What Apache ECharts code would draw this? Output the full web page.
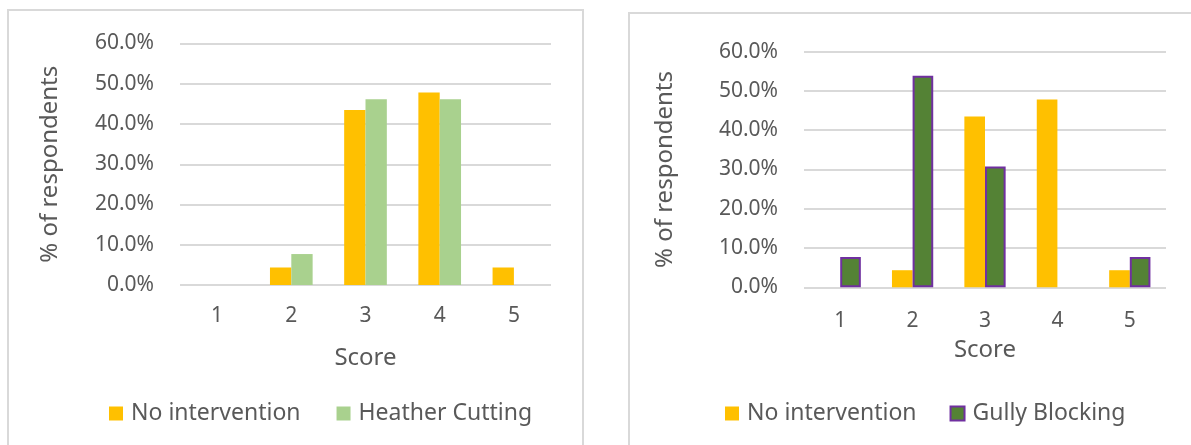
<!DOCTYPE html>
<html>
<head>
<meta charset="utf-8">
<script src="https://cdn.jsdelivr.net/npm/echarts@6/dist/echarts.min.js"></script>
<style>
  html, body { margin: 0; padding: 0; background: #ffffff; }
  #chart { width: 1191px; height: 445px; }
</style>
</head>
<body>
<div id="chart"></div>
<script>
// ---- data (percent of respondents) ----
const scores = ['1', '2', '3', '4', '5'];
const yTicks = [0, 10, 20, 30, 40, 50, 60];
const noIntervention = [0, 4.35, 43.48, 47.83, 4.35];
const heatherCutting = [0, 7.69, 46.15, 46.15, 0];
const gullyBlocking = [7.69, 53.85, 30.77, 0, 7.69];
const seriesNames = ['No intervention', 'Heather Cutting', 'Gully Blocking'];
const yAxisTitle = '% of respondents';
const xAxisTitle = 'Score';

// ---- styling ----
const FONT = 'Noto Sans';
const TXT = '#595959';
const GRIDC = '#d9d9d9';
const ORANGE = '#FFC000';
const LGREEN = '#A9D18E';
const DGREEN = '#548235';
const PURPLE = '#7030A0';

function yAxisCfg(gridIndex, nameGap) {
  return {
    type: 'value', gridIndex: gridIndex,
    min: yTicks[0], max: yTicks[yTicks.length - 1], interval: 10,
    name: yAxisTitle, nameLocation: 'middle', nameRotate: 90, nameGap: nameGap,
    nameTextStyle: { fontFamily: FONT, fontSize: 24, color: TXT },
    axisLine: { show: false }, axisTick: { show: false },
    axisLabel: { fontFamily: FONT, fontSize: 21, color: TXT, margin: 26,
      formatter: v => v.toFixed(1) + '%' },
    splitLine: { show: true, lineStyle: { color: GRIDC, width: 2 } }
  };
}
function xAxisCfg(gridIndex, labelMargin, nameGap) {
  return {
    type: 'category', gridIndex: gridIndex, data: scores,
    name: xAxisTitle, nameLocation: 'middle', nameGap: nameGap,
    nameTextStyle: { fontFamily: FONT, fontSize: 24, color: TXT },
    axisLine: { show: false }, axisTick: { show: false },
    axisLabel: { fontFamily: FONT, fontSize: 21, color: TXT, margin: labelMargin }
  };
}

const gullyData = gullyBlocking.map(v => v === 0
  ? { value: v, itemStyle: { borderWidth: 0 } }
  : v);

const option = {
  animation: false,
  backgroundColor: '#ffffff',
  graphic: [
    { type: 'rect', shape: { x: 8, y: 10, width: 575, height: 520 },
      style: { fill: 'none', stroke: GRIDC, lineWidth: 2 }, silent: true },
    { type: 'rect', shape: { x: 629, y: 13, width: 600, height: 520 },
      style: { fill: 'none', stroke: GRIDC, lineWidth: 2 }, silent: true }
  ],
  grid: [
    { left: 180, right: 1191 - 551, top: 43.5, height: 241.5, containLabel: false },
    { left: 804, right: 1191 - 1166, top: 51.7, height: 235.6, containLabel: false }
  ],
  legend: [
    { data: [seriesNames[0], seriesNames[1]], left: 104, top: 397,
      itemWidth: 14, itemHeight: 14, itemGap: 36, icon: 'rect',
      textStyle: { fontFamily: FONT, fontSize: 23, color: TXT, padding: [0, 0, 0, 3] } },
    { data: [seriesNames[0], seriesNames[2]], left: 720, top: 397,
      itemWidth: 14, itemHeight: 14, itemGap: 33, icon: 'rect',
      textStyle: { fontFamily: FONT, fontSize: 23, color: TXT, padding: [0, 0, 0, 3] } }
  ],
  xAxis: [xAxisCfg(0, 21, 61), xAxisCfg(1, 23, 51)],
  yAxis: [yAxisCfg(0, 118), yAxisCfg(1, 127)],
  series: [
    { name: seriesNames[0], type: 'bar', xAxisIndex: 0, yAxisIndex: 0,
      data: noIntervention, barGap: '0%', barCategoryGap: '42.5%',
      itemStyle: { color: ORANGE } },
    { name: seriesNames[1], type: 'bar', xAxisIndex: 0, yAxisIndex: 0,
      data: heatherCutting, barGap: '0%', barCategoryGap: '42.5%',
      itemStyle: { color: LGREEN } },
    { name: seriesNames[0], type: 'bar', xAxisIndex: 1, yAxisIndex: 1,
      data: noIntervention, barGap: '0%', barCategoryGap: '43%',
      itemStyle: { color: ORANGE } },
    { name: seriesNames[2], type: 'bar', xAxisIndex: 1, yAxisIndex: 1,
      data: gullyData, barGap: '0%', barCategoryGap: '43%',
      itemStyle: { color: DGREEN, borderColor: PURPLE, borderWidth: 2 } }
  ]
};

const chart = echarts.init(document.getElementById('chart'), null, { renderer: 'canvas' });
chart.setOption(option);
</script>
</body>
</html>
